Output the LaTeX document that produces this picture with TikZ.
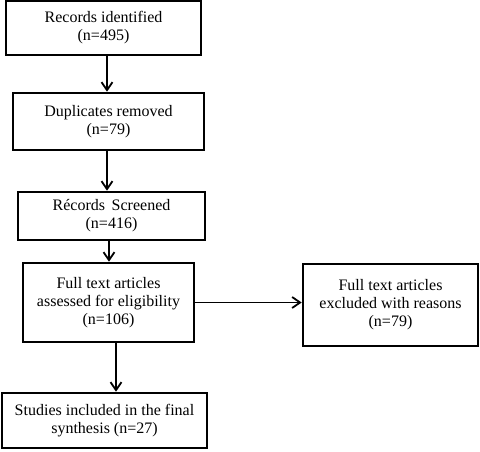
\documentclass[tikz,border=0pt]{standalone}
\usepackage{fontspec}
\setmainfont{Liberation Serif}
\usepackage{tikz}
\usetikzlibrary{arrows.meta,positioning,calc}

\begin{document}
\begin{tikzpicture}[
  x=1pt,y=-1pt,
  >={Straight Barb[length=8pt,width=11pt]},
  box/.style={draw=black, line width=2.6pt, fill=white, align=center, inner sep=2pt, font=\fontsize{16}{18}\selectfont},
  flow/.style={->, line width=1.8pt, draw=black}
]
\useasboundingbox (0,0) rectangle (480,451);

\node[box, minimum width=195pt, minimum height=54pt] (ident) at (103.5,28) {Records identified\\(n=495)};
\node[box, minimum width=191pt, minimum height=57pt] (dupl) at (108.5,121.5) {Duplicates removed\\(n=79)};
\node[box, minimum width=187pt, minimum height=48pt] (screen) at (111.5,216) {Récords\, Screened\\(n=416)};
\node[box, minimum width=171pt, minimum height=79pt] (elig) at (108.5,302.5) {Full text articles\\assessed for eligibility\\(n=106)};
\node[box, minimum width=175pt, minimum height=82pt] (excl) at (390.5,305) {Full text articles\\excluded with reasons\\(n=79)};
\node[box, minimum width=205pt, minimum height=55pt] (incl) at (104.5,420.5) {Studies included in the final\\synthesis (n=27)};

\draw[flow] ([xshift=3.5pt]ident.south) -- ([xshift=3.5pt]ident.south |- dupl.north);
\draw[flow] ([xshift=-1.5pt]dupl.south) -- ([xshift=-1.5pt]dupl.south |- screen.north);
\draw[flow] ([xshift=-2.5pt]screen.south) -- ([xshift=-2.5pt]screen.south |- elig.north);
\draw[flow] (elig.east) -- (elig.east -| excl.west);
\draw[flow] ([xshift=7.5pt]elig.south) -- ([xshift=7.5pt]elig.south |- incl.north);

\end{tikzpicture}
\end{document}
